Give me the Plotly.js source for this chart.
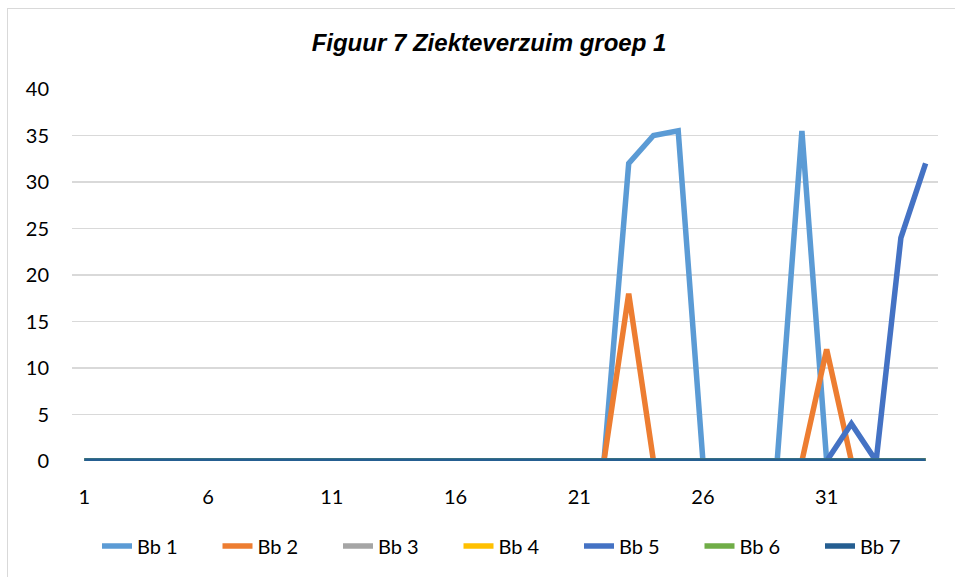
<!DOCTYPE html>
<html>
<head>
<meta charset="utf-8">
<script src="https://cdn.plot.ly/plotly-3.0.1.min.js"></script>
<style>
  html, body { margin: 0; padding: 0; background: #fff; }
  #wrap { position: relative; width: 955px; height: 577px; }
  #chart { width: 955px; height: 577px; }
  #frame { position: absolute; left: 7px; top: 8px; right: -5px; bottom: -5px;
           border-left: 1.5px solid #D9D9D9; border-top: 1.5px solid #D9D9D9; pointer-events: none; }
</style>
</head>
<body>
<div id="wrap">
  <div id="chart"></div>
  <div id="frame"></div>
</div>
<script>
// Data
const weeks = Array.from({length: 35}, (_, i) => i + 1);
const seriesNames = ["Bb 1", "Bb 2", "Bb 3", "Bb 4", "Bb 5", "Bb 6", "Bb 7"];
const bb1 = [0,0,0,0,0,0,0,0,0,0,0,0,0,0,0,0,0,0,0,0,0,0,32,35,35.5,0,0,0,0,35.5,0,0,0,0,0];
const bb2 = [0,0,0,0,0,0,0,0,0,0,0,0,0,0,0,0,0,0,0,0,0,0,18,0,0,0,0,0,0,0,12,0,0,0,0];
const bb3 = [0,0,0,0,0,0,0,0,0,0,0,0,0,0,0,0,0,0,0,0,0,0,0,0,0,0,0,0,0,0,0,0,0,0,0];
const bb4 = [0,0,0,0,0,0,0,0,0,0,0,0,0,0,0,0,0,0,0,0,0,0,0,0,0,0,0,0,0,0,0,0,0,0,0];
const bb5 = [0,0,0,0,0,0,0,0,0,0,0,0,0,0,0,0,0,0,0,0,0,0,0,0,0,0,0,0,0,0,0,4,0,24,32];
const bb6 = [0,0,0,0,0,0,0,0,0,0,0,0,0,0,0,0,0,0,0,0,0,0,0,0,0,0,0,0,0,0,0,0,0,0,0];
const bb7 = [0,0,0,0,0,0,0,0,0,0,0,0,0,0,0,0,0,0,0,0,0,0,0,0,0,0,0,0,0,0,0,0,0,0,0];
const xTickVals = [1, 6, 11, 16, 21, 26, 31];
const xTickText = ["1", "6", "11", "16", "21", "26", "31"];
const yTickVals = [0, 5, 10, 15, 20, 25, 30, 35, 40];

const colors = ["#5B9BD5", "#ED7D31", "#A5A5A5", "#FFC000", "#4472C4", "#70AD47", "#255E91"];
const allSeries = [bb1, bb2, bb3, bb4, bb5, bb6, bb7];

const traces = allSeries.map((vals, i) => ({
  type: "scatter",
  mode: "lines",
  x: weeks,
  y: vals,
  name: seriesNames[i],
  line: { color: colors[i], width: 5.5, shape: "linear" },
  hoverinfo: "skip"
}));

const font = "Lato, 'Open Sans', sans-serif";

const layout = {
  width: 955,
  height: 577,
  paper_bgcolor: "#ffffff",
  plot_bgcolor: "#ffffff",
  margin: { l: 72, r: 17, t: 89, b: 116 },
  title: {
    text: "<b><i>Figuur 7 Ziekteverzuim groep 1</i></b>",
    font: { family: "'Liberation Sans', Arial, sans-serif", size: 24, color: "#000" },
    x: 489/955, xref: "container", xanchor: "center",
    y: 1 - 43/577, yref: "container", yanchor: "middle"
  },
  xaxis: {
    range: [0.5, 35.5],
    tickmode: "array",
    tickvals: xTickVals,
    ticktext: xTickText,
    showgrid: false,
    zeroline: false,
    showline: false,
    ticks: "",
    ticklabelstandoff: 22,
    tickfont: { family: font, size: 20, color: "#000" },
    fixedrange: true
  },
  yaxis: {
    range: [0, 40],
    tickmode: "array",
    tickvals: yTickVals,
    showgrid: true,
    gridcolor: "#D9D9D9",
    gridwidth: 1.5,
    zeroline: false,
    showline: false,
    ticks: "",
    ticklabelstandoff: 22,
    tickfont: { family: font, size: 20, color: "#000" },
    fixedrange: true
  },
  showlegend: true,
  legend: {
    orientation: "h",
    x: 97/955, xref: "container", xanchor: "left",
    y: 1 - 546/577, yref: "container", yanchor: "middle",
    font: { family: font, size: 20, color: "#000" },
    entrywidth: 75.5,
    entrywidthmode: "pixels",
    traceorder: "normal",
    itemclick: false,
    itemdoubleclick: false
  },
  hovermode: false
};

Plotly.newPlot("chart", traces, layout, { displayModeBar: false, staticPlot: true });
</script>
</body>
</html>
